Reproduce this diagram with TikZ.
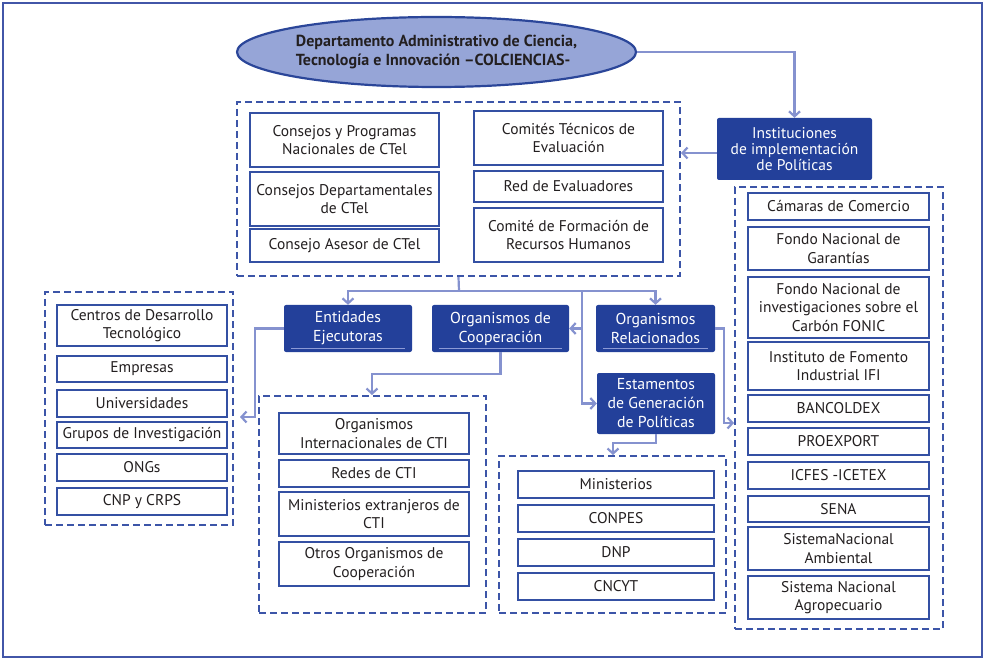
\documentclass[tikz,border=0pt]{standalone}
\usepackage{fontspec}
\setmainfont{PT Sans}
\usetikzlibrary{arrows.meta,shapes.geometric}
\definecolor{dkb}{HTML}{23409A}
\definecolor{ibc}{HTML}{3450A3}
\definecolor{dbc}{HTML}{3C55A8}
\definecolor{cnc}{HTML}{8592CF}
\definecolor{elf}{HTML}{96A5D7}
\definecolor{elb}{HTML}{2B4699}
\definecolor{txt}{HTML}{231F20}
\definecolor{frc}{HTML}{4256A8}
\definecolor{lnc}{HTML}{8C9AD6}
\newcommand\BX[7][ib]{\node[#1,minimum width={(#5-#3)*1pt},minimum height={(#6-#4)*1pt}] (#2) at ({(#3+#5)/2},{(#4+#6)/2}) {#7};}
\tikzset{
  ib/.style={draw=ibc,line width=1.4pt,fill=white,inner sep=0pt,align=center,text=txt,font=\fontsize{15.5}{18.7}\selectfont},
  db/.style={draw=dbc,line width=2pt,dash pattern=on 7pt off 4pt,inner sep=0pt},
  fr/.style={draw=frc,line width=1.2pt,inner sep=0pt},
  dk/.style={fill=dkb,rounded corners=2pt,inner sep=0pt,align=center,text=white,font=\fontsize{15.8}{19}\selectfont},
  dkl/.style={dk,path picture={\draw[lnc,line width=0.8pt] ([xshift=7pt,yshift=3.5pt]path picture bounding box.south west) -- ([xshift=-7pt,yshift=3.5pt]path picture bounding box.south east);}},
  cl/.style={draw=cnc,line width=2.2pt},
  conn/.style={cl,-{Straight Barb[length=5pt,width=11pt]}}
}
\begin{document}
\begin{tikzpicture}[x=1pt,y=-1pt]
\useasboundingbox (0,0) rectangle (985,660);
\BX[fr]{frame}{3}{3}{982}{657}{}
% dashed groups
\BX[db]{tbox}{237}{102}{680}{276}{}
\BX[db]{lbox}{45}{292}{233}{525}{}
\BX[db]{mbox}{259}{396}{486}{613}{}
\BX[db]{cbox}{499}{456}{726}{613}{}
\BX[db]{rbox}{735}{187}{943}{629}{}
% ellipse
\node[ellipse,draw=elb,line width=2.2pt,fill=elf,minimum width=399pt,minimum height=70pt,inner sep=0pt,align=left,text=txt,font=\bfseries\fontsize{16}{19}\selectfont] (col) at (436.5,52) {Departamento Administrativo de Ciencia,\\Tecnología e Innovación –COLCIENCIAS-};
% dark boxes
\BX[dk,font=\fontsize{15.5}{16}\selectfont]{inst}{717}{118}{872}{180}{Instituciones\\de implementación\\de Políticas}
\BX[dkl]{ent}{284}{305}{412}{352}{Entidades\\Ejecutoras}
\BX[dkl]{coop}{432}{305}{569}{352}{Organismos de\\Cooperación}
\BX[dkl]{orel}{596}{305}{715}{352}{Organismos\\Relacionados}
\BX[dk]{est}{597}{373}{715}{434}{Estamentos\\de Generación\\de Políticas}
% top group
\BX{t1}{250}{113}{439}{167}{Consejos y Programas\\Nacionales de CTel}
\BX{t2}{250}{172}{439}{226}{Consejos Departamentales\\de CTel}
\BX{t3}{250}{229}{439}{262}{Consejo Asesor de CTel}
\BX{t4}{474}{111}{663}{165}{Comités Técnicos de\\Evaluación}
\BX{t5}{474}{171}{663}{202}{Red de Evaluadores}
\BX{t6}{474}{208}{663}{262}{Comité de Formación de\\Recursos Humanos}
% left group
\BX{l1}{57}{305}{227}{346}{Centros de Desarrollo\\Tecnológico}
\BX{l2}{57}{356}{227}{382}{Empresas}
\BX{l3}{57}{390}{227}{417}{Universidades}
\BX{l4}{57}{422}{227}{448}{Grupos de Investigación}
\BX{l5}{57}{454}{227}{481}{ONGs}
\BX{l6}{57}{488}{227}{515}{CNP y CRPS}
% middle group
\BX{m1}{279}{413}{469}{454}{Organismos\\Internacionales de CTI}
\BX{m2}{279}{460}{469}{487}{Redes de CTI}
\BX{m3}{279}{492}{469}{536}{Ministerios extranjeros de\\CTI}
\BX{m4}{279}{542}{469}{586}{Otros Organismos de\\Cooperación}
% policy group
\BX{c1}{518}{471}{714}{498}{Ministerios}
\BX{c2}{518}{505}{714}{532}{CONPES}
\BX{c3}{518}{539}{714}{566}{DNP}
\BX{c4}{518}{573}{714}{600}{CNCYT}
% right group
\BX{r1}{748}{193}{929}{220}{Cámaras de Comercio}
\BX{r2}{748}{227}{929}{270}{Fondo Nacional de\\Garantías}
\BX{r3}{748}{277}{929}{338}{Fondo Nacional de\\investigaciones sobre el\\Carbón FONIC}
\BX{r4}{748}{342}{929}{390}{Instituto de Fomento\\Industrial IFI}
\BX{r5}{748}{395}{929}{422}{BANCOLDEX}
\BX{r6}{748}{428}{929}{455}{PROEXPORT}
\BX{r7}{748}{462}{929}{489}{ICFES -ICETEX}
\BX{r8}{748}{496}{929}{522}{SENA}
\BX{r9}{748}{527}{929}{570}{SistemaNacional\\Ambiental}
\BX{r10}{748}{576}{929}{619}{Sistema Nacional\\Agropecuario}
% connectors
\coordinate (bus) at (459,291);
\coordinate (jn) at (582,291);
\coordinate (ea) at (255,417);
\coordinate (cb) at (372,374);
\coordinate (rb) at (724,423);
\coordinate (eb) at (613,443);
\draw[conn] (col.east) -| (inst.north);
\draw[conn] ([yshift=-4pt]inst.west) -- ([yshift=-4pt]inst.west -| tbox.east);
\draw[cl] (tbox.south) -- (bus);
\draw[conn] (bus) -| (ent.north);
\draw[conn] (bus) -| (orel.north);
\draw[conn] (jn) |- (est.west);
\draw[conn] (coop.east -| jn) -- (coop.east);
\draw[conn,shorten >=6pt] (ent.west) -| (ea) -- (ea -| lbox.east);
\draw[conn] (coop.south) |- (cb) -- (cb |- mbox.north);
\draw[conn] (orel.east) -| (rb) -- (rb -| rbox.west);
\draw[conn] (est.south) |- (eb) -- (eb |- cbox.north);
\end{tikzpicture}
\end{document}
